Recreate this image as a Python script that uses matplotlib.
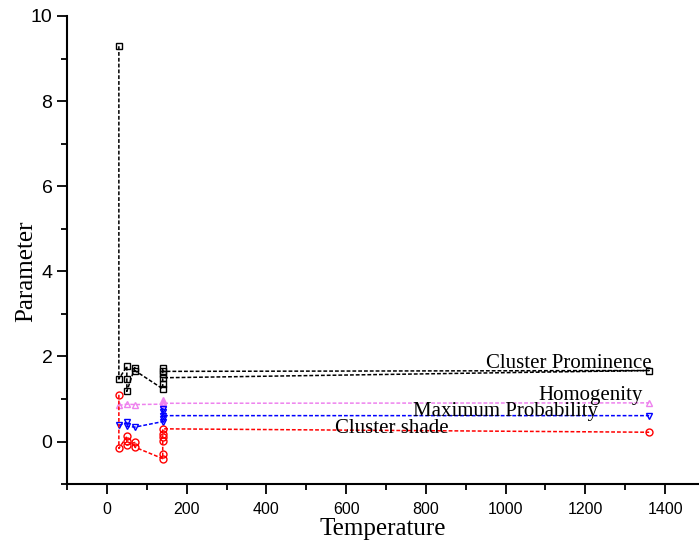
import matplotlib
matplotlib.use("Agg")
import matplotlib.pyplot as plt
from matplotlib.ticker import MultipleLocator

# texture parameters vs temperature (points kept in measurement order)
prom_t = [30, 30, 50, 50, 50, 70, 70, 140, 140, 140, 1360, 140, 140, 140]
prom_v = [9.29, 1.47, 1.77, 1.46, 1.18, 1.74, 1.67, 1.24, 1.36, 1.50, 1.67, 1.65, 1.60, 1.74]

homo_t = [30, 50, 70, 140, 140, 140, 140, 1360]
homo_v = [0.85, 0.88, 0.87, 0.88, 0.93, 0.97, 0.90, 0.91]

maxp_t = [30, 50, 50, 70, 140, 140, 140, 140, 140, 1360]
maxp_v = [0.38, 0.45, 0.36, 0.34, 0.47, 0.53, 0.69, 0.77, 0.61, 0.61]

shade_t = [30, 30, 50, 50, 50, 70, 70, 140, 140, 140, 140, 140, 140, 1360]
shade_v = [1.10, -0.16, 0.12, 0.02, -0.08, -0.02, -0.13, -0.40, -0.30, 0.02, 0.10, 0.18, 0.30, 0.22]

serif = "Liberation Serif"
sans = "Liberation Sans"

fig = plt.figure(figsize=(6.99, 5.44), dpi=100)
ax = fig.add_axes([0.0959, 0.110, 0.9041, 0.8606])

style = dict(linestyle=(0, (2.5, 1.3)), linewidth=1.1, markersize=5,
             markerfacecolor="none", markeredgewidth=1.0)
ax.plot(prom_t, prom_v, marker="s", color="black", **style)
ax.plot(homo_t, homo_v, marker="^", color="violet", **style)
ax.plot(maxp_t, maxp_v, marker="v", color="blue", **style)
ax.plot(shade_t, shade_v, marker="o", color="red", **style)

ax.text(1367, 1.72, "Cluster Prominence", ha="right", va="baseline",
        family=serif, fontsize=15)
ax.text(1344, 0.98, "Homogenity", ha="right", va="baseline",
        family=serif, fontsize=15)
ax.text(768, 0.61, "Maximum Probability", ha="left", va="baseline",
        family=serif, fontsize=15)
ax.text(571, 0.21, "Cluster shade", ha="left", va="baseline",
        family=serif, fontsize=15)

ax.set_xlim(-100, 1485)
ax.set_ylim(-1, 10)
ax.xaxis.set_major_locator(MultipleLocator(200))
ax.xaxis.set_minor_locator(MultipleLocator(100))
ax.yaxis.set_major_locator(MultipleLocator(2))
ax.yaxis.set_minor_locator(MultipleLocator(1))

for side in ("top", "right"):
    ax.spines[side].set_visible(False)
for side in ("left", "bottom"):
    ax.spines[side].set_linewidth(1.5)

ax.tick_params(which="major", length=7.5, width=1.3, direction="out")
ax.tick_params(which="minor", length=4.5, width=1.3, direction="out")
ax.tick_params(axis="x", which="major", pad=5, labelsize=11.5)
ax.tick_params(axis="y", which="major", pad=3, labelsize=14)
for lab in ax.get_xticklabels() + ax.get_yticklabels():
    lab.set_family(sans)

ax.set_xlabel("Temperature", family=serif, fontsize=18, labelpad=1)
ax.set_ylabel("Parameter", family=serif, fontsize=18, labelpad=-5)
ax.yaxis.label.set_y(0.455)

fig.savefig("out.png", dpi=100)
